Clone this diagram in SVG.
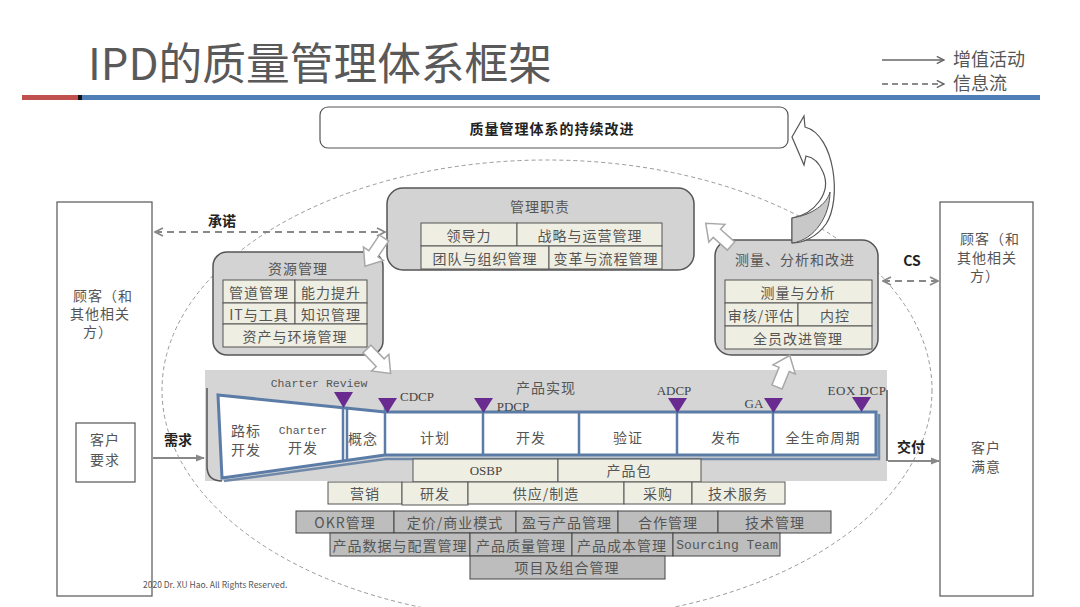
<svg xmlns="http://www.w3.org/2000/svg" width="1080" height="607" viewBox="0 0 1080 607">
<style>
.cj{font-family:"Noto Sans CJK SC","Noto Sans",sans-serif;}
.t{font-family:"Noto Sans CJK SC","Noto Sans",sans-serif;font-size:14px;fill:#555;text-anchor:middle;dominant-baseline:central;letter-spacing:1px;}
.tb{font-family:"Noto Sans CJK SC","Noto Sans",sans-serif;font-size:14px;fill:#222;font-weight:bold;text-anchor:middle;dominant-baseline:central;}
.mono{font-family:"Liberation Mono",monospace;fill:#555;text-anchor:middle;dominant-baseline:central;}
.ser{font-family:"Liberation Serif",serif;font-size:13px;fill:#444;text-anchor:middle;dominant-baseline:central;}
.cell{fill:#efeee2;stroke:#555;stroke-width:1;}
.gcell{fill:#bdbdbd;stroke:#444;stroke-width:1;}
.gbox{fill:#d3d3d3;stroke:#555;stroke-width:1.5;}
.div{stroke:#5b7ca6;stroke-width:2.5;}
.tri{fill:#6a2b90;}
.dash{stroke:#888;stroke-width:2;stroke-dasharray:7 5;fill:none;}
.sol{stroke:#888;stroke-width:2;fill:none;}
.blk{fill:#fff;stroke:#a8a8a8;stroke-width:1.5;}
</style>
<defs>
<marker id="ah" viewBox="0 0 10 10" refX="9" refY="5" markerWidth="10" markerHeight="10" orient="auto-start-reverse" markerUnits="userSpaceOnUse">
<path d="M1,1 L9,5 L1,9" fill="none" stroke="#888" stroke-width="1.8"/>
</marker>
<marker id="af" viewBox="0 0 10 10" refX="9" refY="5" markerWidth="9" markerHeight="9" orient="auto" markerUnits="userSpaceOnUse">
<path d="M0,1 L10,5 L0,9 Z" fill="#888"/>
</marker>
<marker id="al" viewBox="0 0 10 10" refX="9" refY="5" markerWidth="9" markerHeight="9" orient="auto" markerUnits="userSpaceOnUse">
<path d="M1,1 L9,5 L1,9" fill="none" stroke="#666" stroke-width="1.6"/>
</marker>
<path id="blkarrow" d="M0,-5.5 L19,-5.5 L19,-12 L34,0 L19,12 L19,5.5 L0,5.5 Z"/>
</defs>
<rect width="1080" height="607" fill="#fff"/>

<!-- header -->
<g id="header">
<text x="88" y="80" class="cj" font-size="44" fill="#595959" textLength="464" lengthAdjust="spacingAndGlyphs">IPD的质量管理体系框架</text>
<rect x="22" y="95" width="56" height="5" fill="#c0504d"/>
<rect x="78" y="95" width="4" height="5" fill="#111"/>
<rect x="82" y="95" width="958" height="5" fill="#4f7db5"/>
</g>
<g id="legend">
<line x1="882" y1="60" x2="944" y2="60" stroke="#666" stroke-width="1.6" marker-end="url(#al)"/>
<line x1="882" y1="84" x2="944" y2="84" stroke="#666" stroke-width="1.6" stroke-dasharray="6 4" marker-end="url(#al)"/>
<text x="953" y="66" class="cj" font-size="18" fill="#555">增值活动</text>
<text x="953" y="90" class="cj" font-size="18" fill="#555">信息流</text>
</g>

<!-- dashed ellipse -->
<ellipse cx="547" cy="390" rx="385" ry="230" fill="none" stroke="#999" stroke-width="1" stroke-dasharray="4 3"/>

<!-- top box -->
<g id="improve">
<rect x="320" y="107" width="468" height="41" rx="8" fill="#fff" stroke="#555" stroke-width="1.2"/>
<text x="552" y="128" class="tb" font-size="15" letter-spacing="1">质量管理体系的持续改进</text>
</g>

<!-- customer left -->
<g id="customer-left">
<rect x="57" y="202" width="95" height="394" fill="#fff" stroke="#555" stroke-width="1.2"/>
<text x="103" y="295" class="t" font-size="15" letter-spacing="0">顾客（和</text>
<text x="100" y="313" class="t" font-size="15" letter-spacing="0">其他相关</text>
<text x="98" y="331" class="t" font-size="15" letter-spacing="0">方）</text>
<rect x="76" y="423" width="59" height="59" fill="#fff" stroke="#555" stroke-width="1.2"/>
<text x="105" y="439" class="t" font-size="15" letter-spacing="0">客户</text>
<text x="105" y="459" class="t" font-size="15" letter-spacing="0">要求</text>
</g>

<!-- customer right -->
<g id="customer-right">
<rect x="940" y="202" width="93" height="394" fill="#fff" stroke="#555" stroke-width="1.2"/>
<text x="990" y="238" class="t" font-size="15" letter-spacing="0">顾客（和</text>
<text x="987" y="257" class="t" font-size="15" letter-spacing="0">其他相关</text>
<text x="985" y="275" class="t" font-size="15" letter-spacing="0">方）</text>
<text x="986" y="447" class="t" font-size="15" letter-spacing="0">客户</text>
<text x="986" y="466" class="t" font-size="15" letter-spacing="0">满意</text>
</g>

<!-- management -->
<g id="management">
<rect x="387" y="188" width="307" height="82" rx="16" class="gbox"/>
<text x="540" y="206" class="t" font-size="15">管理职责</text>
<rect x="421" y="223" width="96" height="23" class="cell"/>
<rect x="517" y="223" width="145" height="23" class="cell"/>
<rect x="421" y="246" width="128" height="23" class="cell"/>
<rect x="549" y="246" width="113" height="23" class="cell"/>
<text x="469" y="235" class="t">领导力</text>
<text x="590" y="235" class="t">战略与运营管理</text>
<text x="485" y="258" class="t">团队与组织管理</text>
<text x="606" y="258" class="t">变革与流程管理</text>
</g>

<!-- resources -->
<g id="resources">
<rect x="213" y="252" width="170" height="103" rx="14" class="gbox"/>
<text x="298" y="268" class="t" font-size="15">资源管理</text>
<rect x="223" y="280" width="72" height="23" class="cell"/>
<rect x="295" y="280" width="72" height="23" class="cell"/>
<rect x="223" y="303" width="72" height="21" class="cell"/>
<rect x="295" y="303" width="72" height="21" class="cell"/>
<rect x="223" y="324" width="144" height="23" class="cell"/>
<text x="259" y="292" class="t">管道管理</text>
<text x="331" y="292" class="t">能力提升</text>
<text x="259" y="314" class="t" letter-spacing="0">IT与工具</text>
<text x="331" y="314" class="t">知识管理</text>
<text x="295" y="336" class="t">资产与环境管理</text>
</g>

<!-- measurement -->
<g id="measure">
<rect x="715" y="240" width="163" height="115" rx="16" class="gbox"/>
<text x="795" y="259" class="t" font-size="15" letter-spacing="0">测量、分析和改进</text>
<rect x="725" y="280" width="147" height="23" class="cell"/>
<rect x="725" y="303" width="73" height="23" class="cell"/>
<rect x="798" y="303" width="74" height="23" class="cell"/>
<rect x="725" y="326" width="147" height="23" class="cell"/>
<text x="798" y="292" class="t">测量与分析</text>
<text x="761" y="315" class="t" letter-spacing="0">审核/评估</text>
<text x="835" y="315" class="t">内控</text>
<text x="798" y="338" class="t">全员改进管理</text>
</g>

<!-- product realization -->
<g id="product">
<rect x="205" y="370" width="682" height="111" fill="#d5d5d5"/>
<path d="M207,388 L207,466 Q207,481 222,481" stroke="#555" fill="none" stroke-width="1.5"/>
<line x1="887" y1="390" x2="887" y2="461" stroke="#555" stroke-width="1.5"/>
<text x="546" y="387" class="t" font-size="15" letter-spacing="0">产品实现</text>
<path d="M218,395 L385,412 L876,412 L876,455 L385,455 L222,478 Z" fill="#fff" stroke="#5b7ca6" stroke-width="3"/>
<path d="M224,481 L386,459 L879,459 L879,414" stroke="#4f6f9a" stroke-width="2.5" fill="none" opacity="0.75"/>
<line x1="343" y1="408" x2="343" y2="462" class="div"/>
<line x1="347" y1="408" x2="347" y2="461" class="div" stroke-width="1.5"/>
<line x1="385" y1="404" x2="385" y2="455" class="div"/>
<line x1="483" y1="404" x2="483" y2="455" class="div"/>
<line x1="579" y1="412" x2="579" y2="455" class="div"/>
<line x1="677" y1="404" x2="677" y2="455" class="div"/>
<line x1="773" y1="404" x2="773" y2="455" class="div"/>
<text x="246" y="430" class="t">路标</text>
<text x="246" y="449" class="t">开发</text>
<text x="303" y="430" class="mono" font-size="11.5">Charter</text>
<text x="303" y="447" class="t">开发</text>
<text x="363" y="438" class="t">概念</text>
<text x="435" y="437" class="t">计划</text>
<text x="531" y="437" class="t">开发</text>
<text x="628" y="437" class="t">验证</text>
<text x="726" y="437" class="t">发布</text>
<text x="823" y="437" class="t">全生命周期</text>
<text x="319" y="383" class="mono" font-size="11.5">Charter Review</text>
<text x="417" y="396" class="ser">CDCP</text>
<text x="513" y="406" class="ser">PDCP</text>
<text x="674" y="390" class="ser">ADCP</text>
<text x="754" y="403" class="ser">GA</text>
<text x="857" y="390" class="ser" letter-spacing="0.5">EOX DCP</text>
<path d="M334,392 L353,392 L343.5,408 Z" class="tri"/>
<path d="M378,398 L397,398 L387.5,413 Z" class="tri"/>
<path d="M474,398 L493,398 L483.5,413 Z" class="tri"/>
<path d="M668,398 L687,398 L677.5,413 Z" class="tri"/>
<path d="M764,398 L783,398 L773.5,413 Z" class="tri"/>
<path d="M852,397 L871,397 L861.5,412 Z" class="tri"/>
</g>

<!-- support rows -->
<g id="row-osbp">
<rect x="413" y="459" width="145" height="23" class="cell"/>
<rect x="558" y="459" width="143" height="23" class="cell"/>
<text x="486" y="470" class="ser" font-size="14">OSBP</text>
<text x="629" y="470" class="t">产品包</text>
</g>
<g id="row-functions">
<rect x="328" y="482" width="74" height="22" class="cell"/>
<rect x="402" y="482" width="66" height="23" class="cell"/>
<rect x="468" y="482" width="156" height="22" class="cell"/>
<rect x="624" y="482" width="68" height="22" class="cell"/>
<rect x="692" y="482" width="93" height="22" class="cell"/>
<text x="365" y="493" class="t">营销</text>
<text x="435" y="493" class="t">研发</text>
<text x="546" y="493" class="t" letter-spacing="0">供应/制造</text>
<text x="658" y="493" class="t">采购</text>
<text x="738" y="493" class="t">技术服务</text>
</g>
<g id="row-mgmt1">
<rect x="296" y="511" width="98" height="22" class="gcell"/>
<rect x="394" y="511" width="122" height="22" class="gcell"/>
<rect x="516" y="511" width="102" height="22" class="gcell"/>
<rect x="618" y="511" width="100" height="22" class="gcell"/>
<rect x="718" y="511" width="113" height="22" class="gcell"/>
<text x="345" y="522" class="t" letter-spacing="0">OKR管理</text>
<text x="455" y="522" class="t" letter-spacing="0.5">定价/商业模式</text>
<text x="567" y="522" class="t" letter-spacing="0.5">盈亏产品管理</text>
<text x="668" y="522" class="t">合作管理</text>
<text x="775" y="522" class="t">技术管理</text>
</g>
<g id="row-mgmt2">
<rect x="330" y="533" width="140" height="23" class="gcell"/>
<rect x="470" y="533" width="102" height="23" class="gcell"/>
<rect x="572" y="533" width="101" height="23" class="gcell"/>
<rect x="673" y="533" width="107" height="23" class="gcell"/>
<text x="400" y="545" class="t" letter-spacing="0.5">产品数据与配置管理</text>
<text x="521" y="545" class="t" letter-spacing="0.5">产品质量管理</text>
<text x="622" y="545" class="t" letter-spacing="0.5">产品成本管理</text>
<text x="727" y="545" class="mono" font-size="13">Sourcing Team</text>
</g>
<g id="row-mgmt3">
<rect x="470" y="556" width="195" height="23" class="gcell"/>
<text x="567" y="567" class="t" letter-spacing="2">项目及组合管理</text>
</g>

<text x="143" y="588" class="cj" font-size="8.5" fill="#555">2020 Dr. XU Hao. All Rights Reserved.</text>

<!-- connectors -->
<g id="connectors">
<line x1="155" y1="232" x2="385" y2="232" class="dash" marker-start="url(#ah)" marker-end="url(#ah)"/>
<text x="222" y="220" class="tb">承诺</text>
<line x1="883" y1="281" x2="938" y2="281" class="dash" marker-start="url(#ah)" marker-end="url(#ah)"/>
<text x="912" y="260" class="tb" font-family="Liberation Serif">CS</text>
<line x1="153" y1="458" x2="204" y2="458" class="sol" marker-end="url(#af)"/>
<text x="178" y="439" class="tb">需求</text>
<line x1="888" y1="461" x2="939" y2="461" class="sol" marker-end="url(#af)"/>
<text x="911" y="446" class="tb">交付</text>
<use href="#blkarrow" class="blk" transform="translate(384,238) rotate(124)"/>
<use href="#blkarrow" class="blk" transform="translate(367,349) rotate(46)"/>
<use href="#blkarrow" class="blk" transform="translate(731,246) rotate(222)"/>
<use href="#blkarrow" class="blk" transform="translate(777,387) rotate(-68)"/>
<path d="M792,137 L804,116 L805,127 C835,135 842,200 826,224 C816,238 802,243 792,243 L792,218 C815,214 832,192 823,172 C819,162 812,157 806,156 L804,165 Z" fill="#fff" stroke="#555" stroke-width="1.2"/>
<path d="M830,192 C830,215 815,240 792,243 L792,218 C812,215 827,204 830,192 Z" fill="#c8c8c8" stroke="#555" stroke-width="1"/>
</g>
</svg>
